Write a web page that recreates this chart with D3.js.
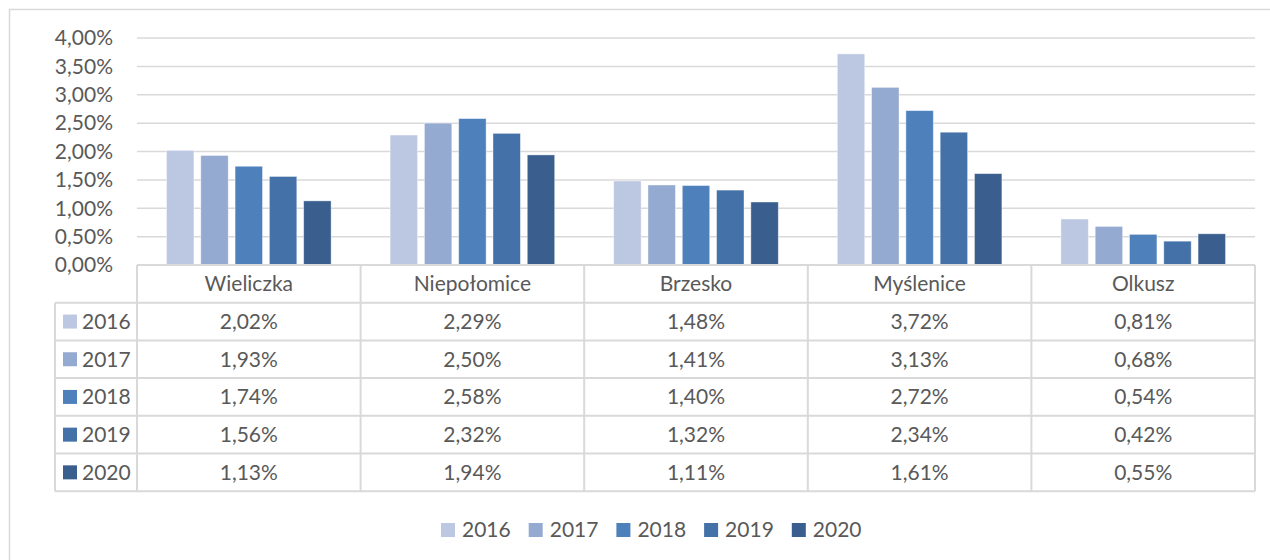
<!DOCTYPE html>
<html>
<head>
<meta charset="utf-8">
<script src="https://cdn.jsdelivr.net/npm/d3@7"></script>
<style>
  body { margin: 0; background: #fff; }
  svg { display: block; font-family: Lato, "Open Sans", sans-serif; }
</style>
</head>
<body>
<svg id="chart" width="1270" height="560"></svg>
<script>
const categories = ["Wieliczka", "Niepołomice", "Brzesko", "Myślenice", "Olkusz"];
const years = ["2016", "2017", "2018", "2019", "2020"];
const v2016 = [2.02, 2.29, 1.48, 3.72, 0.81];
const v2017 = [1.93, 2.50, 1.41, 3.13, 0.68];
const v2018 = [1.74, 2.58, 1.40, 2.72, 0.54];
const v2019 = [1.56, 2.32, 1.32, 2.34, 0.42];
const v2020 = [1.13, 1.94, 1.11, 1.61, 0.55];
const yTicks = [0, 0.5, 1, 1.5, 2, 2.5, 3, 3.5, 4];
const colors = ["#BCC8E1", "#95AAD0", "#4E80BC", "#4472A8", "#3A5F8E"];

const series = [v2016, v2017, v2018, v2019, v2020];
const fmt = v => v.toFixed(2).replace(".", ",") + "%";

const svg = d3.select("#chart");
const grid = "#D9D9D9";
const textCol = "#595959";
const fs = 21;

const plotLeft = 137, plotRight = 1255, plotTop = 38, base = 265;
const rowH = 37.7, tableLeft = 55;

// chart outline
svg.append("rect")
  .attr("x", 9.5).attr("y", 9.5).attr("width", 1300).attr("height", 600)
  .attr("fill", "none").attr("stroke", grid).attr("stroke-width", 1.5);

const x0 = d3.scaleBand().domain(categories).range([plotLeft, plotRight]);
const x1 = d3.scaleBand().domain(years).range([29.5, x0.bandwidth() - 29.5]).paddingInner(0.2);
const y = d3.scaleLinear().domain([0, 4]).range([base, plotTop]);

// gridlines
svg.append("g").selectAll("line").data(yTicks.slice(1)).join("line")
  .attr("x1", plotLeft).attr("x2", plotRight)
  .attr("y1", d => y(d)).attr("y2", d => y(d))
  .attr("stroke", grid).attr("stroke-width", 1.5);

// y labels
svg.append("g").selectAll("text").data(yTicks).join("text")
  .attr("x", 113).attr("y", d => y(d))
  .attr("dy", "0.35em").attr("text-anchor", "end")
  .attr("font-size", fs).attr("fill", textCol)
  .text(d => fmt(d));

// bars
years.forEach((yr, si) => {
  svg.append("g").selectAll("rect").data(categories).join("rect")
    .attr("x", (c) => x0(c) + x1(yr))
    .attr("y", (c, i) => y(series[si][i]))
    .attr("width", x1.bandwidth())
    .attr("height", (c, i) => base - y(series[si][i]))
    .attr("fill", colors[si])
    .attr("stroke", "#fff").attr("stroke-opacity", 0.5).attr("stroke-width", 0.8);
});

// data table
const tbl = svg.append("g").attr("stroke", grid).attr("stroke-width", 2);
const tableBottom = base + rowH * (years.length + 1);
tbl.append("line").attr("x1", plotLeft).attr("x2", plotRight).attr("y1", base).attr("y2", base);
d3.range(1, years.length + 2).forEach(r => {
  tbl.append("line").attr("x1", tableLeft).attr("x2", plotRight)
    .attr("y1", base + r * rowH).attr("y2", base + r * rowH);
});
tbl.append("line").attr("x1", tableLeft).attr("x2", tableLeft).attr("y1", base + rowH).attr("y2", tableBottom);
categories.forEach(c => {
  tbl.append("line").attr("x1", x0(c)).attr("x2", x0(c)).attr("y1", base).attr("y2", tableBottom);
});
tbl.append("line").attr("x1", plotRight).attr("x2", plotRight).attr("y1", base).attr("y2", tableBottom);

// category headers
svg.append("g").selectAll("text").data(categories).join("text")
  .attr("x", c => x0(c) + x0.bandwidth() / 2).attr("y", base + rowH / 2)
  .attr("dy", "0.35em").attr("text-anchor", "middle")
  .attr("font-size", fs).attr("fill", textCol)
  .text(c => c);

// rows
years.forEach((yr, si) => {
  const cy = base + rowH * (si + 1.5);
  svg.append("rect").attr("x", 63).attr("y", cy - 7).attr("width", 14).attr("height", 14)
    .attr("fill", colors[si]);
  svg.append("text").attr("x", 82).attr("y", cy).attr("dy", "0.35em")
    .attr("font-size", fs).attr("fill", textCol).text(yr);
  svg.append("g").selectAll("text").data(categories).join("text")
    .attr("x", c => x0(c) + x0.bandwidth() / 2).attr("y", cy)
    .attr("dy", "0.35em").attr("text-anchor", "middle")
    .attr("font-size", fs).attr("fill", textCol)
    .text((c, i) => fmt(series[si][i]));
});

// legend
const lx = d3.scaleBand().domain(years).range([441, 441 + 87.7 * years.length]);
const leg = svg.append("g").selectAll("g").data(years).join("g")
  .attr("transform", d => `translate(${lx(d)},530)`);
leg.append("rect").attr("x", 0).attr("y", -7).attr("width", 14).attr("height", 14)
  .attr("fill", (d, i) => colors[i]);
leg.append("text").attr("x", 21).attr("dy", "0.35em")
  .attr("font-size", fs).attr("fill", textCol).text(d => d);
</script>
</body>
</html>
